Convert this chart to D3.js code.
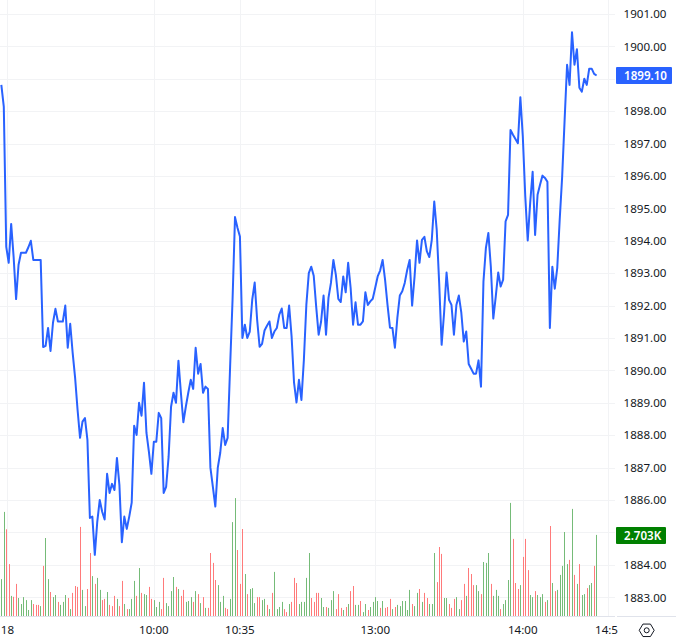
<!DOCTYPE html>
<html>
<head>
<meta charset="utf-8">
<script src="https://cdnjs.cloudflare.com/ajax/libs/d3/7.8.5/d3.min.js"></script>
<style>
html, body { margin: 0; padding: 0; background: #fff; }
svg { display: block; }
text { font-family: "Noto Sans", sans-serif; font-size: 11.6px; fill: #131722; }
.grid { stroke: #f2f3f5; stroke-width: 1; shape-rendering: crispEdges; }
.axis-line { stroke: #e0e3eb; stroke-width: 1; shape-rendering: crispEdges; }
</style>
</head>
<body>
<div class="box"></div>
<script>
// one entry per minute bar
var prices = [
	1898.81, 1898.14, 1893.81, 1893.32, 1894.52, 1893.5, 1892.2, 1893.26, 1893.63, 1893.63,
	1893.63, 1893.8, 1894.0, 1893.41, 1893.41, 1893.41, 1893.41, 1890.72, 1890.76, 1891.31,
	1890.6, 1891.47, 1891.9, 1891.51, 1891.51, 1891.51, 1892.0, 1890.7, 1891.44, 1890.54,
	1889.77, 1888.78, 1887.92, 1888.42, 1888.53, 1887.86, 1885.45, 1885.49, 1884.31, 1885.33,
	1886.0, 1885.64, 1885.4, 1886.81, 1886.22, 1886.5, 1886.31, 1887.3, 1886.47, 1884.7,
	1885.49, 1885.11, 1885.49, 1885.92, 1888.29, 1888.01, 1889.0, 1888.6, 1889.62, 1888.07,
	1887.49, 1886.81, 1887.8, 1887.8, 1888.69, 1888.53, 1886.22, 1886.41, 1887.33, 1888.88,
	1889.31, 1889.0, 1890.3, 1889.31, 1888.4, 1888.88, 1889.31, 1889.71, 1889.43, 1890.7,
	1889.9, 1890.2, 1889.31, 1889.5, 1889.43, 1887.0, 1886.41, 1885.8, 1887.0, 1887.46,
	1888.22, 1887.7, 1887.92, 1890.1, 1892.18, 1894.73, 1894.4, 1894.13, 1891.0, 1891.41,
	1891.0, 1891.2, 1892.18, 1892.71, 1891.56, 1890.73, 1890.82, 1891.23, 1891.38, 1891.51,
	1891.0, 1891.2, 1891.31, 1891.72, 1891.91, 1891.31, 1891.31, 1892.0, 1891.05, 1889.62,
	1889.01, 1889.71, 1889.09, 1890.33, 1892.02, 1893.0, 1893.2, 1892.92, 1891.97, 1891.1,
	1891.51, 1892.31, 1891.1, 1892.24, 1892.7, 1893.41, 1892.95, 1892.21, 1892.11, 1892.9,
	1892.41, 1893.32, 1892.55, 1891.41, 1892.1, 1891.41, 1891.41, 1891.51, 1892.41, 1892.02,
	1892.13, 1892.21, 1892.55, 1892.9, 1893.08, 1893.41, 1892.8, 1892.02, 1891.32, 1891.31,
	1890.7, 1891.62, 1892.31, 1892.44, 1892.7, 1893.1, 1893.41, 1892.0, 1892.9, 1894.01,
	1893.32, 1894.03, 1894.12, 1893.67, 1893.5, 1894.03, 1895.21, 1894.34, 1892.7, 1890.79,
	1891.78, 1893.02, 1892.18, 1892.02, 1891.1, 1892.02, 1892.31, 1891.78, 1890.89, 1891.2,
	1890.2, 1890.05, 1889.9, 1889.9, 1890.31, 1889.5, 1892.74, 1893.78, 1894.24, 1893.2,
	1891.6, 1892.28, 1893.02, 1892.59, 1892.8, 1894.6, 1894.8, 1897.42, 1897.27, 1897.14,
	1897.01, 1898.43, 1897.22, 1895.37, 1894.01, 1895.17, 1896.13, 1894.18, 1895.42, 1895.73,
	1896.01, 1895.94, 1895.82, 1891.31, 1893.2, 1892.52, 1893.16, 1894.65, 1895.98, 1897.73,
	1899.43, 1898.81, 1900.43, 1899.43, 1899.91, 1898.72, 1898.6, 1899.0, 1898.81, 1899.31,
	1899.31, 1899.15, 1899.1
];

// volume per bar, in thousands
var volumes = [
	1.23, 3.47, 2.89, 1.73, 0.67, 0.64, 1.07, 0.6, 0.4, 0.63,
	0.53, 0.2, 0.53, 0.4, 0.37, 0.37, 0.33, 1.67, 2.6, 1.23,
	0.8, 0.63, 0.7, 0.47, 0.37, 0.47, 0.7, 0.6, 0.23, 0.77,
	1.0, 0.97, 2.97, 0.87, 0.33, 0.9, 2.1, 1.33, 1.07, 1.27,
	0.87, 0.53, 0.57, 0.8, 0.37, 0.33, 0.67, 0.57, 0.33, 1.17,
	0.4, 0.23, 0.23, 0.57, 1.17, 0.67, 1.6, 0.77, 0.73, 0.7,
	0.97, 0.57, 0.53, 0.3, 0.47, 0.23, 1.27, 0.43, 0.33, 0.83,
	1.3, 0.97, 0.9, 0.67, 0.87, 0.47, 0.5, 0.63, 0.47, 0.83,
	0.73, 0.43, 0.63, 0.27, 0.27, 2.1, 1.77, 1.2, 1.03, 0.47,
	0.67, 0.27, 0.23, 0.57, 3.13, 3.93, 2.2, 1.07, 2.9, 1.4,
	0.73, 0.9, 0.93, 0.43, 0.63, 0.63, 0.53, 0.57, 0.37, 0.23,
	0.77, 1.47, 0.23, 0.3, 0.47, 0.23, 0.13, 0.4, 0.47, 1.27,
	1.1, 0.4, 0.47, 0.47, 1.27, 2.1, 0.6, 0.47, 0.77, 0.77,
	0.6, 0.3, 0.3, 0.27, 0.53, 0.83, 0.23, 0.73, 0.27, 0.2,
	0.3, 0.4, 0.83, 1.0, 0.37, 0.37, 0.5, 0.13, 0.4, 0.2,
	0.3, 0.47, 0.63, 0.5, 0.27, 0.5, 0.27, 0.3, 0.57, 0.23,
	0.3, 0.37, 0.33, 0.5, 0.5, 0.2, 0.87, 0.4, 0.33, 0.77,
	0.9, 0.47, 0.77, 0.6, 0.4, 0.4, 2.1, 1.13, 2.3, 2.07,
	0.6, 0.6, 0.4, 0.27, 0.57, 0.63, 0.23, 0.53, 1.07, 0.67,
	1.6, 1.4, 1.03, 1.03, 0.83, 0.73, 1.8, 1.77, 2.1, 1.07,
	0.67, 0.87, 0.67, 0.23, 0.4, 0.53, 1.2, 3.77, 2.57, 1.1,
	0.9, 1.03, 1.97, 2.57, 1.53, 0.7, 0.63, 0.83, 0.7, 0.63,
	0.73, 0.47, 0.53, 3.0, 1.1, 0.83, 0.87, 1.37, 1.67, 2.8,
	1.73, 1.87, 3.57, 1.37, 1.07, 1.73, 0.7, 0.73, 0.93, 1.03,
	1.1, 1.67, 2.703
];

// g = up bar, r = down bar
var sides = (
	'ggrrgrrggg' + 'gggrrrgrgg' + 'rggrgggrgr' + 'rrrggrrgrg' + 'grrgrrrgrr' +
	'grgggrgrgg' + 'rrgggrrggg' + 'grgrrgggrg' + 'rgrgrrrrgg' + 'grrgggrrrg' +
	'rgggrrggrg' + 'rggggrrgrr' + 'rgggggrrrr' + 'ggrgggrrrg' + 'rgrrggrggr' +
	'ggggrgrrrg' + 'rggggggrgg' + 'rgrrgggrrr' + 'ggrrrggrrg' + 'rrrggrgggr' +
	'gggrggggrr' + 'rgrrrggrgg' + 'grgrgrgggg' + 'grgrgrggrg' + 'grg'
).split('');

var priceTicks = d3.range(1883, 1902);
// 1885 and 1899 sit under the two badges
var hiddenLabels = [1885, 1899];
var timeTicks = [
	{index: 2.5, label: '18'},
	{index: 62, label: '10:00'},
	{index: 97, label: '10:35'},
	{index: 152, label: '13:00'},
	{index: 212, label: '14:00'},
	{index: 246.7, label: '14:5'}
];
var lastPrice = 1899.10;
var lastVolume = 2.703;

var width = 676, height = 640;
var plotRight = 615, plotBottom = 616;

var x = d3.scaleLinear().domain([0, 242]).range([1.33, 596.6]);
var y = d3.scaleLinear().domain([1883, 1900]).range([597.3, 46.3]);
var yVol = d3.scaleLinear().domain([0, 4]).range([plotBottom, plotBottom - 120]);

var svg = d3.select('.box')
	.append('svg')
	.attr('width', width)
	.attr('height', height);

svg.append('clipPath')
	.attr('id', 'plot')
	.append('rect')
		.attr('width', plotRight)
		.attr('height', plotBottom);

svg.selectAll('line.hgrid')
	.data(priceTicks)
	.enter()
	.append('line')
		.attr('class', 'grid hgrid')
		.attr('x1', 0)
		.attr('x2', plotRight)
		.attr('y1', function(d) { return Math.round(y(d)) + 0.5; })
		.attr('y2', function(d) { return Math.round(y(d)) + 0.5; });

svg.selectAll('line.vgrid')
	.data(timeTicks)
	.enter()
	.append('line')
		.attr('class', 'grid vgrid')
		.attr('x1', function(d) { return Math.round(x(d.index)) + 0.5; })
		.attr('x2', function(d) { return Math.round(x(d.index)) + 0.5; })
		.attr('y1', 0)
		.attr('y2', plotBottom);

// volume
svg.selectAll('rect.vol')
	.data(volumes)
	.enter()
	.append('rect')
		.attr('class', 'vol')
		.attr('x', function(d, i) { return Math.floor(x(i) + 0.3); })
		.attr('y', function(d) { return yVol(d); })
		.attr('width', 1)
		.attr('height', function(d) { return plotBottom - yVol(d); })
		.style('fill', function(d, i) { return sides[i] === 'g' ? '#75bb78' : '#ff7a7a'; });

var line = d3.line()
	.x(function(d, i) { return x(i); })
	.y(function(d) { return y(d); });

svg.append('path')
	.datum(prices)
	.attr('d', line)
	.attr('clip-path', 'url(#plot)')
	.style('fill', 'none')
	.style('stroke', '#2962ff')
	.style('stroke-width', 2)
	.style('stroke-linejoin', 'round');

// axis borders
svg.append('line').attr('class', 'axis-line')
	.attr('x1', 0).attr('x2', 615).attr('y1', plotBottom + 0.5).attr('y2', plotBottom + 0.5);
svg.append('line').attr('class', 'axis-line')
	.attr('x1', 617).attr('x2', width).attr('y1', plotBottom + 0.5).attr('y2', plotBottom + 0.5);

// price axis
svg.selectAll('text.price')
	.data(priceTicks.filter(function(d) { return hiddenLabels.indexOf(d) === -1; }))
	.enter()
	.append('text')
		.attr('class', 'price')
		.attr('x', 666.5)
		.attr('y', function(d) { return y(d) + 4.2; })
		.attr('text-anchor', 'end')
		.text(function(d) { return d3.format('.2f')(d); });

// time axis, the last label runs under the settings corner
svg.selectAll('text.time')
	.data(timeTicks)
	.enter()
	.append('text')
		.attr('class', 'time')
		.attr('x', function(d) { return d.label === '14:5' ? 595 : x(d.index); })
		.attr('y', 634)
		.attr('text-anchor', function(d) { return d.label === '14:5' ? 'start' : 'middle'; })
		.text(function(d) { return d.label; });

function drawBadge(value, text, color, w) {
	var cy = value === lastPrice ? y(value) : yVol(value);
	svg.append('rect')
		.attr('x', 616)
		.attr('y', Math.round(cy) - 8)
		.attr('width', w)
		.attr('height', 17)
		.attr('rx', 1)
		.style('fill', color);
	svg.append('text')
		.attr('x', 624)
		.attr('y', Math.round(cy) + 4.5)
		.style('fill', '#fff')
		.style('font-weight', 600)
		.text(text);
}

drawBadge(lastPrice, d3.format('.2f')(lastPrice), '#2962ff', 56);
drawBadge(lastVolume, '2.703K', '#008000', 50);

// settings icon
var hex = d3.range(6).map(function(k) {
	var a = k * Math.PI / 3;
	return [646.7 + 7.5 * Math.cos(a), 630.3 + 7.2 * Math.sin(a)];
});
svg.append('path')
	.attr('d', d3.line()(hex) + 'Z')
	.style('fill', 'none')
	.style('stroke', '#131722')
	.style('stroke-width', 1)
	.style('stroke-linejoin', 'round');
svg.append('circle')
	.attr('cx', 646.7)
	.attr('cy', 630.3)
	.attr('r', 2.5)
	.style('fill', 'none')
	.style('stroke', '#131722')
	.style('stroke-width', 1);
</script>
</body>
</html>
